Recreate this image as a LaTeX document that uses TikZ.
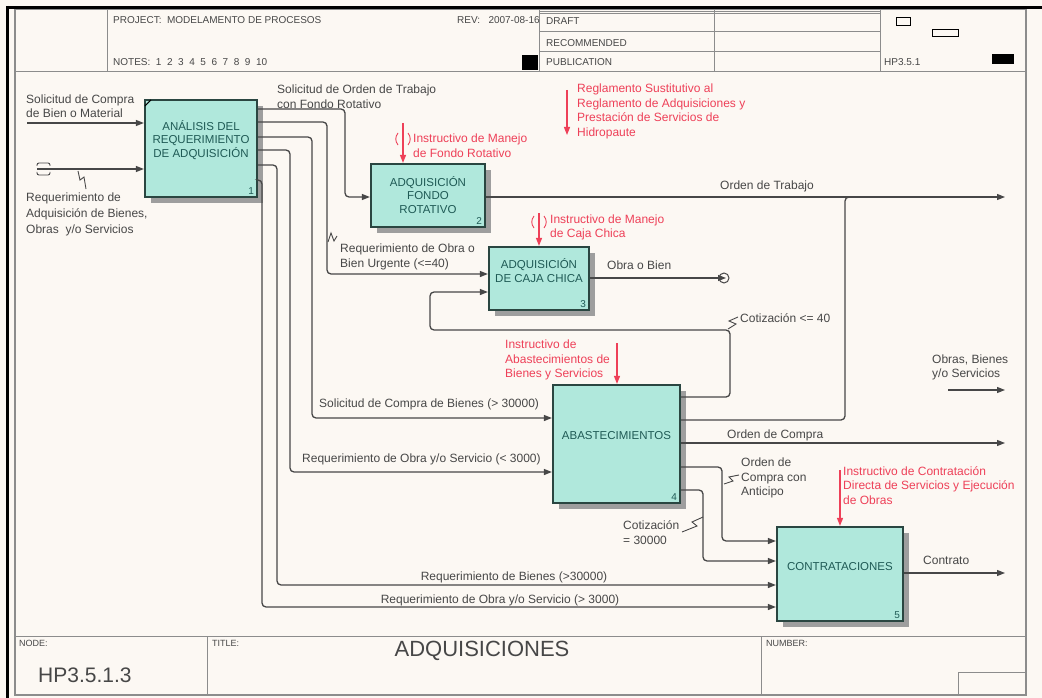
\documentclass[tikz,border=0pt]{standalone}
\usepackage{fontspec}
\setmainfont{Liberation Sans}
\usetikzlibrary{arrows.meta,shadows}
\definecolor{paper}{HTML}{FCF8F3}
\definecolor{boxfill}{HTML}{B0E8DC}
\definecolor{boxline}{HTML}{2A4641}
\definecolor{boxtext}{HTML}{1F5A55}
\definecolor{ink}{HTML}{474747}
\definecolor{ctrl}{HTML}{EE4058}
\definecolor{rule}{HTML}{8C8C8C}
\tikzset{
  act/.style={draw=boxline, line width=2.2pt, fill=boxfill, inner sep=0pt,
    drop shadow={shadow xshift=6pt, shadow yshift=-6pt, fill=black!38, opacity=1}},
  acttext/.style={text=boxtext, font=\fontsize{11.5}{13.5}\selectfont, align=center, inner sep=0pt},
  actnum/.style={text=boxtext, font=\fontsize{10}{10}\selectfont, inner sep=0pt, anchor=south east},
  flow/.style={draw=ink, line width=1.3pt, rounded corners=4pt},
  arr/.style={flow, -{Triangle[length=8pt,width=6pt]}},
  ctl/.style={draw=ctrl, line width=1.3pt, -{Triangle[length=8pt,width=6pt]}},
  zig/.style={draw=ink, line width=0.9pt},
  tun/.style={line width=0.9pt},
  lbl/.style={text=ink, font=\fontsize{12}{14.5}\selectfont, inner sep=0pt, align=left, anchor=west},
  rlbl/.style={lbl, text=ctrl},
  hdr/.style={text=ink, font=\fontsize{10}{12}\selectfont, inner sep=0pt, anchor=west},
  cell/.style={draw=rule, line width=1pt},
}
\begin{document}
\begin{tikzpicture}[x=1pt, y=-1pt]
\useasboundingbox (0,0) rectangle (1042,698);
\fill[paper] (0,0) rectangle (1042,698);

% sheet frame
\draw[rule, line width=1.2pt] (15,9) rectangle (1026,695);
\draw[black, line width=3pt] (7,7.5) -- (1042,7.5);
\draw[black, line width=3pt] (7.5,6) -- (7.5,698);

% header block
\draw[cell] (15,72) -- (1026,72);
\draw[cell] (107,9) -- (107,72);
\draw[cell] (539,9) -- (539,72);
\draw[cell] (714,9) -- (714,72);
\draw[cell] (880,9) -- (880,72);
\draw[cell] (539,12) -- (880,12);
\draw[cell] (539,14) -- (880,14);
\draw[cell] (539,32) -- (880,32);
\draw[cell] (539,52) -- (880,52);
\fill[black] (522,55) rectangle (538,70);
\draw[black, line width=0.8pt] (896,17) rectangle (910,25);
\draw[black, line width=0.8pt] (932,29) rectangle (958,36);
\fill[black] (992,54) rectangle (1014,64);
\node[hdr] (hproj) at (113,20) {PROJECT:\ \ MODELAMENTO DE PROCESOS};
\node[hdr] (hrev) at (457,20) {REV:\ \ \ 2007-08-16};
\node[hdr] (hnotes) at (113,62) {NOTES:\ \ 1\ \ 2\ \ 3\ \ 4\ \ 5\ \ 6\ \ 7\ \ 8\ \ 9\ \ 10};
\node[hdr] (hdraft) at (546,21) {DRAFT};
\node[hdr] (hrec) at (546,43) {RECOMMENDED};
\node[hdr] (hpub) at (546,62) {PUBLICATION};
\node[hdr] (hnode) at (884,62) {HP3.5.1};

% footer block
\draw[cell] (15,636) -- (1026,636);
\draw[cell] (207,636) -- (207,695);
\draw[cell] (761,636) -- (761,695);
\draw[cell] (958,672) rectangle (1026,695);
\node[hdr, font=\fontsize{9}{10}\selectfont] (fnode) at (19,643) {NODE:};
\node[hdr, font=\fontsize{9}{10}\selectfont] (ftitle) at (212,643) {TITLE:};
\node[hdr, font=\fontsize{9}{10}\selectfont] (fnum) at (766,643) {NUMBER:};
\node[hdr, font=\fontsize{21}{24}\selectfont] (fnodeid) at (38,675) {HP3.5.1.3};
\node[text=ink, font=\fontsize{22}{24}\selectfont, inner sep=0pt] (ftitletxt) at (482,651) {ADQUISICIONES};

% activity boxes
\node[act, minimum width=112pt, minimum height=97pt] (A1) at (201,148.5) {};
\node[act, minimum width=114pt, minimum height=63pt] (A2) at (428,195.5) {};
\node[act, minimum width=100pt, minimum height=63pt] (A3) at (539,278.5) {};
\node[act, minimum width=127pt, minimum height=118pt] (A4) at (616.5,444) {};
\node[act, minimum width=126pt, minimum height=94pt] (A5) at (840,574) {};

\node[acttext] (A1t) at (201,140) {ANÁLISIS DEL\\REQUERIMIENTO\\DE ADQUISICIÓN};
\node[acttext] (A2t) at (428,195) {ADQUISICIÓN\\FONDO\\ROTATIVO};
\node[acttext] (A3t) at (539,270.5) {ADQUISICIÓN\\DE CAJA CHICA};
\node[acttext] (A4t) at (616.5,436) {ABASTECIMIENTOS};
\node[acttext] (A5t) at (840,567) {CONTRATACIONES};
\node[actnum] (A1n) at ([xshift=-4pt,yshift=3pt]A1.south east) {1};
\node[actnum] (A2n) at ([xshift=-4pt,yshift=3pt]A2.south east) {2};
\node[actnum] (A3n) at ([xshift=-4pt,yshift=3pt]A3.south east) {3};
\node[actnum] (A4n) at ([xshift=-4pt,yshift=3pt]A4.south east) {4};
\node[actnum] (A5n) at ([xshift=-4pt,yshift=3pt]A5.south east) {5};
\draw[black, line width=1pt] ([xshift=1pt,yshift=-7pt]A1.north west) -- ([xshift=7pt,yshift=-1pt]A1.north west);

% free ends of boundary arrows
\coordinate (inA) at (27,123);
\coordinate (inB) at (37,169);
\coordinate (outTrabajo) at (1005,197);
\coordinate (outObra) at (726,278);
\coordinate (outCompra) at (1005,443);
\coordinate (outContrato) at (1005,573);
\coordinate (obrasA) at (948,390);
\coordinate (obrasB) at (1005,390);
\coordinate (cReg) at (567,90);
\coordinate (cReg2) at (567,135);
\coordinate (cA2) at (403,123);
\coordinate (cA3) at (539,213);
\coordinate (cA4) at (617,343);
\coordinate (cA5) at (840,470);

% inputs to A1
\draw[arr] (inA) -- (A1.west |- inA);
\draw[arr] (inB) -- (A1.west |- inB);
\draw[ink, tun, rounded corners=2pt] (37,166) -- (37,163) -- (50,163) -- (50,166);
\draw[ink, tun, rounded corners=2pt] (37,172) -- (37,175) -- (50,175) -- (50,172);
\draw[zig] (78,171) -- (80,180) -- (84,177) -- (86,189);

% outputs of A1
\draw[arr] (A1.east |- 0,109) -- (345,109) -- (345,197) -- (A2.west |- 0,197);
\draw[arr] (A1.east |- 0,122) -- (327,122) -- (327,274) -- (A3.west |- 0,274);
\draw[arr] (A1.east |- 0,137) -- (312,137) -- (312,418) -- (A4.west |- 0,418);
\draw[arr] (A1.east |- 0,150) -- (290,150) -- (290,472) -- (A4.west |- 0,472);
\draw[arr] (A1.east |- 0,165) -- (277,165) -- (277,585) -- (A5.west |- 0,585);
\draw[arr] (A1.east |- 0,180) -- (262,180) -- (262,607) -- (A5.west |- 0,607);
\draw[zig] (328,242) -- (331,233) -- (334,241) -- (337,236);

% outputs of A2 and A3
\draw[arr] (A2.east |- outTrabajo) -- (outTrabajo);
\draw[arr] (A3.east |- outObra) -- (outObra);
\draw[ink, line width=1pt] (724,278) circle (5);

% outputs of A4
\draw[arr] (A4.east |- 0,397) -- (730,397) -- (730,330) -- (430,330) -- (430,292) -- (A3.west |- 0,292);
\draw[flow] (A4.east |- 0,420) -- (845,420) -- (845,197) -- (852,197);
\draw[arr] (A4.east |- outCompra) -- (outCompra);
\draw[arr] (A4.east |- 0,467) -- (722,467) -- (722,541) -- (A5.west |- 0,541);
\draw[arr] (A4.east |- 0,490) -- (703,490) -- (703,561) -- (A5.west |- 0,561);
\draw[zig] (728,329) -- (736,324) -- (729,321) -- (738,317);
\draw[zig] (724,484) -- (733,481) -- (729,477) -- (739,475);
\draw[zig] (703,517) -- (692,522) -- (697,526) -- (682,532);

% output of A5 and the free output
\draw[arr] (A5.east |- outContrato) -- (outContrato);
\draw[arr] (obrasA) -- (obrasB);

% controls
\draw[ctl] (cReg) -- (cReg2);
\draw[ctl] (cA2) -- (A2.north -| cA2);
\draw[ctl] (cA3) -- (A3.north -| cA3);
\draw[ctl] (cA4) -- (A4.north -| cA4);
\draw[ctl] (cA5) -- (A5.north -| cA5);
\draw[ctrl, tun] (398,133) .. controls (395,137) and (395,141) .. (398,145);
\draw[ctrl, tun] (408,133) .. controls (411,137) and (411,141) .. (408,145);
\draw[ctrl, tun] (534,216) .. controls (531,220) and (531,224) .. (534,228);
\draw[ctrl, tun] (544,216) .. controls (547,220) and (547,224) .. (544,228);

% arrow labels
\node[lbl] (lSolCompra) at (26,106) {Solicitud de Compra\\de Bien o Material};
\node[lbl, font=\fontsize{12}{16}\selectfont] (lReqAdq) at (26,214) {Requerimiento de\\Adquisición de Bienes,\\Obras\ \ y/o Servicios};
\node[lbl] (lSolOrden) at (277,96.5) {Solicitud de Orden de Trabajo\\con Fondo Rotativo};
\node[lbl] (lUrgente) at (340,257) {Requerimiento de Obra o\\Bien Urgente (<=40)};
\node[lbl] (lSolBienes) at (319,404) {Solicitud de Compra de Bienes (> 30000)};
\node[lbl] (lReqMenor) at (302,459) {Requerimiento de Obra y/o Servicio (< 3000)};
\node[lbl, anchor=center] (lReqBienes) at (514,577) {Requerimiento de Bienes (>30000)};
\node[lbl, anchor=center] (lReqMayor) at (500,600) {Requerimiento de Obra y/o Servicio (> 3000)};
\node[lbl] (lTrabajo) at (720,186) {Orden de Trabajo};
\node[lbl] (lObra) at (607,265) {Obra o Bien};
\node[lbl] (lCot40) at (740,318) {Cotización <= 40};
\node[lbl] (lObras) at (932,367.5) {Obras, Bienes\\y/o Servicios};
\node[lbl] (lCompra) at (727,435) {Orden de Compra};
\node[lbl] (lAnticipo) at (741,478) {Orden de\\Compra con\\Anticipo};
\node[lbl] (lCot30) at (623,532.5) {Cotización\\= 30000};
\node[lbl] (lContrato) at (923,560) {Contrato};

% control labels
\node[rlbl] (rReg) at (577,111.5) {Reglamento Sustitutivo al\\Reglamento de Adquisiciones y\\Prestación de Servicios de\\Hidropaute};
\node[rlbl] (rFondo) at (413,145.5) {Instructivo de Manejo\\de Fondo Rotativo};
\node[rlbl] (rCaja) at (550,227.5) {Instructivo de Manejo\\de Caja Chica};
\node[rlbl] (rAbast) at (505,360) {Instructivo de\\Abastecimientos de\\Bienes y Servicios};
\node[rlbl] (rContr) at (843,485.5) {Instructivo de Contratación\\Directa de Servicios y Ejecución\\de Obras};
\end{tikzpicture}
\end{document}
